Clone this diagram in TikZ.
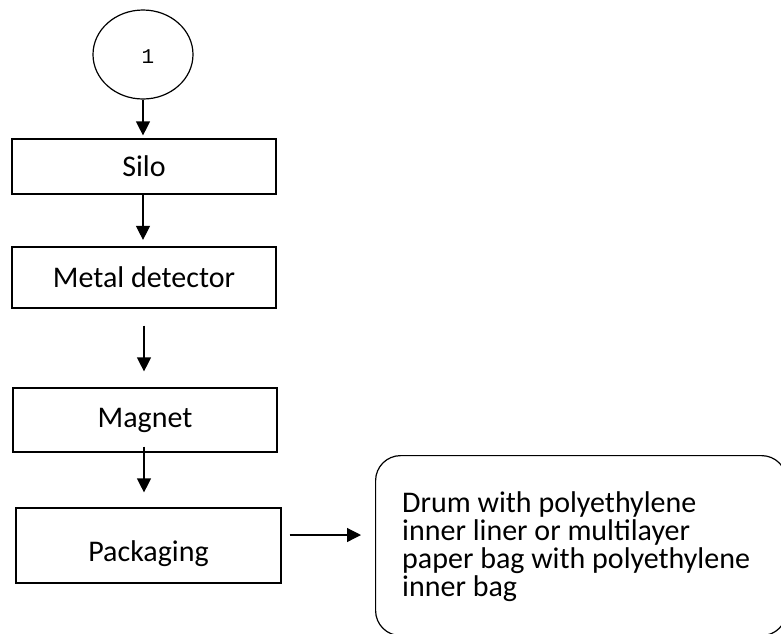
\documentclass[tikz,border=0pt]{standalone}
\usepackage{fontspec}
\setmainfont{Carlito}
\newfontfamily\monofont{Liberation Mono}
\usetikzlibrary{arrows.meta,shapes.geometric}
\newcommand\myboxfont{\fontsize{30}{28.3}\selectfont\lineskiplimit=-100pt\relax\lineskip=0pt\relax}
\tikzset{
  x=1pt,y=1pt,
  line/.style={line width=1.2pt},
  arr/.style={line, -{Triangle[length=14pt,width=14pt]}},
  boxfont/.style={font=\myboxfont},
  stepbox/.style={draw, line width=1.2pt, rectangle, minimum width=264pt, inner sep=0pt, boxfont},
}
\begin{document}
\begin{tikzpicture}
\useasboundingbox (0,0) rectangle (781,-633);
\clip (0,0) rectangle (781,-633);
\fill[white] (0,0) rectangle (781,-633);
\node[draw, line width=1.2pt, ellipse, minimum width=100pt, minimum height=89pt, inner sep=0pt,
      label={[xshift=5pt,yshift=-2.5pt,font=\monofont\fontsize{21}{22}\selectfont]center:1}] (start) at (143,-54.5) {};
\node[stepbox, minimum height=55pt] (silo) at (144,-166.5) {Silo};
\node[stepbox, minimum height=61pt] (metal) at (144,-277.5) {Metal detector};
\node[stepbox, minimum height=64pt] (magnet) at (145,-420) {Magnet};
\node[stepbox, minimum height=75pt, minimum width=265pt,
      label={[yshift=-8pt,boxfont]center:Packaging}] (pack) at (148.5,-545.5) {};
\node[draw, line width=1.2pt, rectangle, rounded corners=25pt, minimum width=411pt, minimum height=180pt,
      anchor=north west, inner sep=0pt] (drum) at (375,-455) {};
\node[anchor=north west, align=left, inner sep=0pt, boxfont] (drumtext) at (402,-491)
  {Drum with polyethylene\\inner liner or multilayer\\paper bag with polyethylene\\inner bag};
\draw[arr, shorten >=3pt] (start.south -| 143,0) -- (143,0 |- silo.north);
\draw[arr, shorten >=6.5pt] (silo.south -| 143,0) -- (143,0 |- metal.north);
\draw[arr, shorten <=17pt, shorten >=16pt] (metal.south -| 144,0) -- (144,0 |- magnet.north);
\draw[arr, shorten <=-6pt, shorten >=15pt] (magnet.south -| 144,0) -- (144,0 |- pack.north);
\coordinate (a) at ([shift={(8pt,10.5pt)}]pack.east);
\draw[arr, shorten >=14pt] (a) -- (drum.west |- a);
\end{tikzpicture}
\end{document}
